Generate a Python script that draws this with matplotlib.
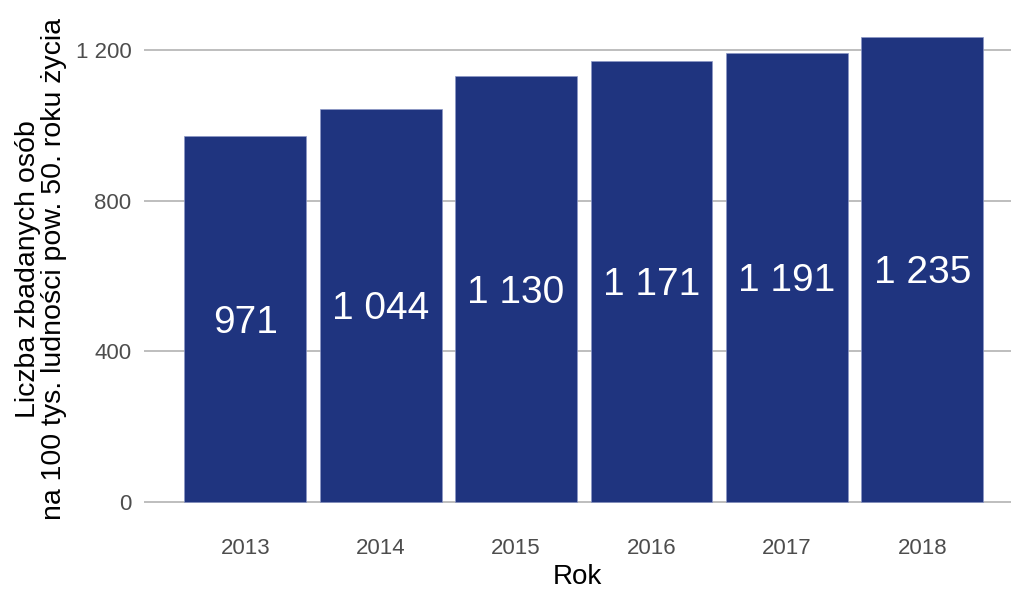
import numpy as np
import matplotlib.pyplot as plt

plt.rcParams['font.family'] = ['Liberation Sans', 'DejaVu Sans']

# dane
lata = ['2013', '2014', '2015', '2016', '2017', '2018']
liczba = [971, 1044, 1130, 1171, 1191, 1235]
y_ticks = [0, 400, 800, 1200]

kolor_slupka = '#1F347F'


def fmt(v):
    # separator tysięcy jako spacja
    return f"{v:,}".replace(",", " ")


fig = plt.figure(figsize=(10.11, 5.90), dpi=100)
W, H = 1011, 590
left, right, top, bottom = 144, 1011, 13.5, 525
ax = fig.add_axes([left / W, 1 - bottom / H, (right - left) / W, (bottom - top) / H])

x = np.arange(len(lata))
ax.bar(x, liczba, width=0.9, color=kolor_slupka, edgecolor='#8C97C6',
       linewidth=0.5, zorder=3)

# etykiety w połowie wysokości słupka (cyfry wyśrodkowane optycznie)
fs = 28
for xi, v in zip(x, liczba):
    ax.annotate(fmt(v), xy=(xi, v / 2), xytext=(0, -0.358 * fs),
                textcoords='offset points', ha='center', va='baseline',
                color='white', fontsize=fs, zorder=4)

ymax = max(liczba)
ax.set_ylim(-0.05 * ymax, 1.05 * ymax)
ax.set_xlim(-0.748, len(lata) - 1 + 0.655)

ax.set_yticks(y_ticks)
ax.set_yticklabels([fmt(t) for t in y_ticks])
ax.set_xticks(x)
ax.set_xticklabels(lata)
ax.tick_params(axis='both', length=0, labelsize=16, labelcolor='#4D4D4D')
ax.tick_params(axis='y', pad=9)
ax.tick_params(axis='x', pad=9)

ax.grid(axis='y', color='#B3B3B3', linewidth=1.2, zorder=0)
ax.grid(axis='x', visible=False)
for s in ax.spines.values():
    s.set_visible(False)

ax.set_xlabel('Rok', fontsize=20, labelpad=4)
ax.set_ylabel('Liczba zbadanych osób\nna 100 tys. ludności pow. 50. roku życia',
              fontsize=20.5, labelpad=6, linespacing=1.0)

fig.savefig('out.png', dpi=100)
